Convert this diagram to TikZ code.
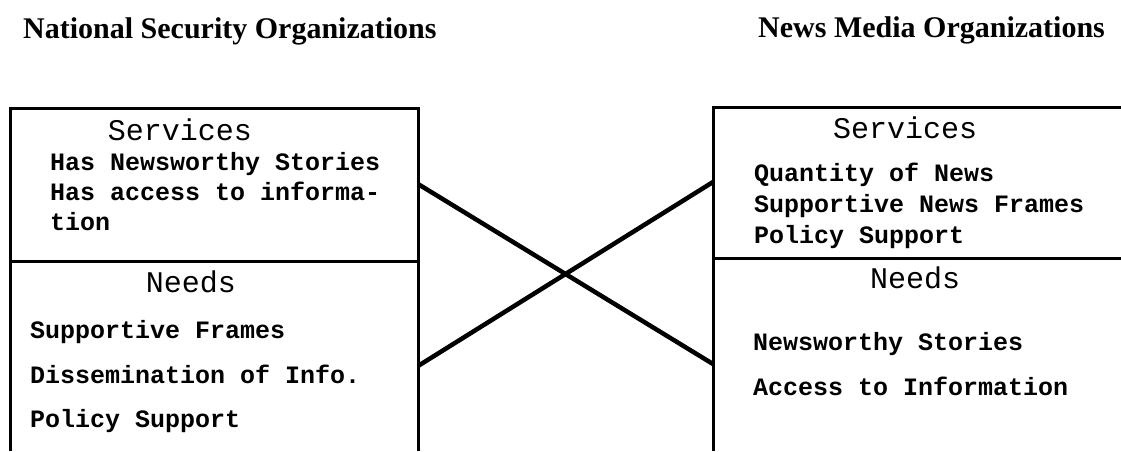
\documentclass[tikz,border=0pt]{standalone}
\usepackage{fontspec}
\setmainfont{Liberation Serif}
\newfontfamily\monofont{Liberation Mono}
\begin{document}
\begin{tikzpicture}[x=1pt,y=-1pt,
  title/.style={anchor=base west,inner sep=0pt,font=\fontsize{30}{36}\selectfont\bfseries},
  heading/.style={anchor=base,inner sep=0pt,font=\monofont\fontsize{30}{36}\selectfont},
  item/.style={anchor=base west,inner sep=0pt,font=\monofont\bfseries\fontsize{25}{30}\selectfont},
  frame/.style={line width=3pt},
  link/.style={line width=4.5pt}]
\useasboundingbox (0,0) rectangle (1121,451);

% column titles
\node[title] (nsotitle) at (23,38) {National Security Organizations};
\node[title] (nmotitle) at (758,37) {News Media Organizations};

% left frame: services over needs, open at the bottom
\draw[frame] (10,451) |- (418,108) -- (418,451);
\draw[frame] (10,261) -- (418,261);
% right frame: open at the bottom and on the right
\draw[frame] (713,451) |- (1121,107);
\draw[frame] (713,258) -- (1121,258);

% left: services
\node[heading] (nsoservh) at (180,140) {Services};
\node[item] (nso1) at (50,170) {Has Newsworthy Stories};
\node[item] (nso2) at (50,200) {Has access to informa-};
\node[item] (nso3) at (50,230) {tion};
% left: needs
\node[heading] (nsoneedh) at (191,292) {Needs};
\node[item] (nso4) at (30,338) {Supportive Frames};
\node[item] (nso5) at (30,383) {Dissemination of Info.};
\node[item] (nso6) at (30,427) {Policy Support};

% right: services
\node[heading] (nmoservh) at (905,138) {Services};
\node[item] (nmo1) at (754,181) {Quantity of News};
\node[item] (nmo2) at (754,212) {Supportive News Frames};
\node[item] (nmo3) at (754,243) {Policy Support};
% right: needs
\node[heading] (nmoneedh) at (915,288) {Needs};
\node[item] (nmo4) at (753,350) {Newsworthy Stories};
\node[item] (nmo5) at (753,395) {Access to Information};

% crossing links: each side's services meet the other's needs
\coordinate (nsoServ) at (418,184);
\coordinate (nsoNeeds) at (418,366);
\coordinate (nmoServ) at (713,182);
\coordinate (nmoNeeds) at (713,364);
\draw[link] (nsoServ) -- (nmoNeeds);
\draw[link] (nsoNeeds) -- (nmoServ);
\end{tikzpicture}
\end{document}
